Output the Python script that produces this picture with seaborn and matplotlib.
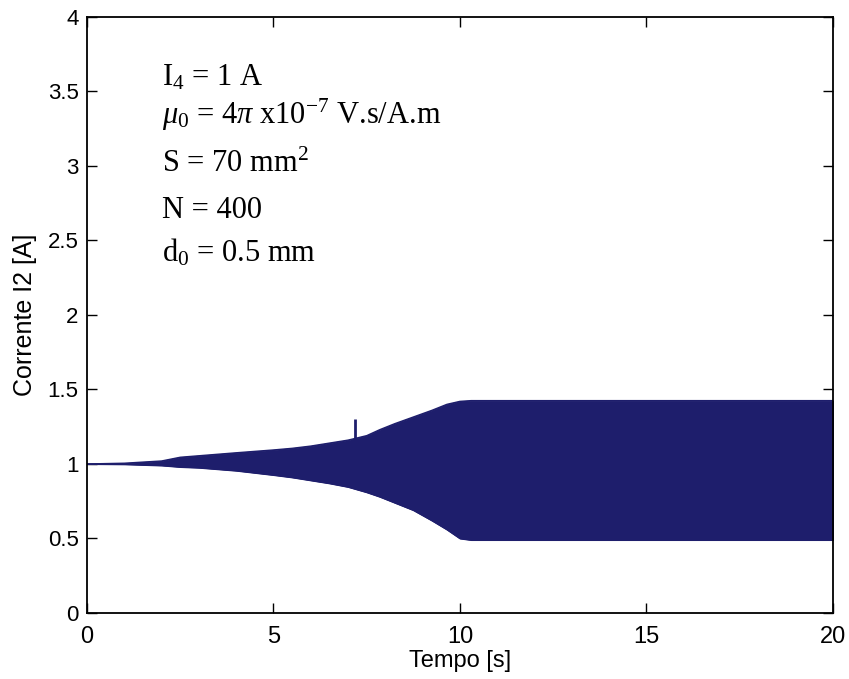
import matplotlib
matplotlib.use("Agg")
import matplotlib.pyplot as plt
import seaborn as sns
import pandas as pd

# Envelope of the coil current I2 over time (peaks and troughs of the oscillation)
tempo = [0.0, 1.0, 2.0, 2.5, 3.0, 4.0, 5.0, 5.5, 6.0, 6.5, 7.0, 7.5, 7.85, 8.25,
         8.75, 9.25, 9.65, 10.0, 10.3, 12.0, 15.0, 18.0, 20.0]
pico = [1.0, 1.005, 1.02, 1.045, 1.055, 1.075, 1.094, 1.105, 1.12, 1.14, 1.16,
        1.19, 1.23, 1.27, 1.315, 1.36, 1.40, 1.42, 1.425, 1.425, 1.425, 1.425, 1.425]
vale = [1.0, 0.998, 0.99, 0.98, 0.975, 0.955, 0.926, 0.91, 0.89, 0.87, 0.846,
        0.81, 0.78, 0.74, 0.69, 0.62, 0.56, 0.50, 0.49, 0.49, 0.49, 0.49, 0.49]

# Isolated spike in the transient
pico_t = [7.18]
pico_v = [1.30]

x_ticks = [0, 5, 10, 15, 20]
y_ticks = [0, 0.5, 1, 1.5, 2, 2.5, 3, 3.5, 4]
y_tick_labels = ["0", "0.5", "1", "1.5", "2", "2.5", "3", "3.5", "4"]

params = [r"I$_4$ = 1 A",
          r"$\mu_0$ = 4$\pi$ x10$^{-7}$ V.s/A.m",
          r"S = 70 mm$^2$",
          r"N = 400",
          r"d$_0$ = 0.5 mm"]
param_y = [3.59, 3.34, 3.01, 2.70, 2.42]

sns.set_theme(style="white")
plt.rcParams["mathtext.fontset"] = "custom"
plt.rcParams["mathtext.rm"] = "Liberation Serif"
plt.rcParams["mathtext.it"] = "Liberation Serif:italic"

df = pd.DataFrame({"Tempo": tempo, "pico": pico, "vale": vale})
cor = "#1e1e6c"

fig = plt.figure(figsize=(8.49, 6.79), dpi=100)
ax = fig.add_axes([0.1025, 0.0972, 0.8785, 0.878])

ax.fill_between(df["Tempo"], df["vale"], df["pico"], color=cor, linewidth=0.8,
                edgecolor=cor)
sns.lineplot(data=df, x="Tempo", y="pico", ax=ax, color=cor, linewidth=1.0)
sns.lineplot(data=df, x="Tempo", y="vale", ax=ax, color=cor, linewidth=1.0)
ax.vlines(pico_t, [1.0], pico_v, color=cor, linewidth=2.0)

ax.set_xlim(0, 20)
ax.set_ylim(0, 4)
ax.set_xticks(x_ticks)
ax.set_yticks(y_ticks)
ax.set_yticklabels(y_tick_labels)

sans = ["Liberation Sans", "DejaVu Sans"]
for lab in ax.get_xticklabels():
    lab.set_family(sans)
    lab.set_fontsize(17)
for lab in ax.get_yticklabels():
    lab.set_family(sans)
    lab.set_fontsize(16)

ax.tick_params(direction="in", length=7, width=1.0, top=True, right=True,
               bottom=True, left=True, colors="black")
ax.tick_params(axis="x", pad=9)
ax.tick_params(axis="y", pad=6)
for s in ax.spines.values():
    s.set_color("black")
    s.set_linewidth(1.3)

ax.set_xlabel("Tempo [s]", family=sans, fontsize=17, color="black", labelpad=2)
ax.set_ylabel("Corrente I2 [A]", family=sans, fontsize=18, color="black", labelpad=8)

for txt, yv in zip(params, param_y):
    ax.text(2.01, yv, txt, fontsize=22, color="black", va="center", ha="left",
            family=["Liberation Serif", "DejaVu Serif"])

fig.savefig("out.png", dpi=100, facecolor="white")
